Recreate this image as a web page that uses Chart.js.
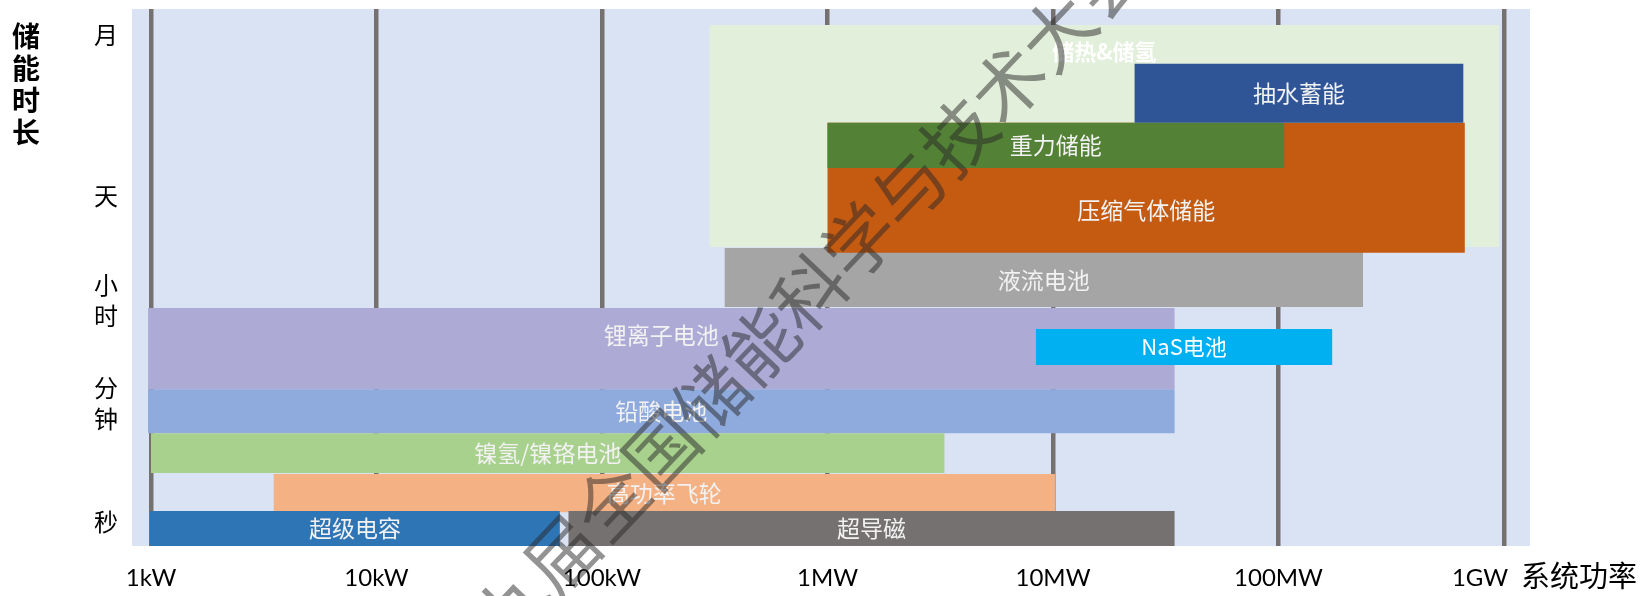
<!DOCTYPE html>
<html lang="zh">
<head>
<meta charset="UTF-8">
<title>储能技术功率与储能时长</title>
<script src="https://cdn.jsdelivr.net/npm/chart.js@4.4.1/dist/chart.umd.min.js"></script>
<style>
    body { margin: 0; background: #ffffff; }
    #wrap { width: 1647px; height: 596px; }
</style>
</head>
<body>
<div id="wrap"><canvas id="chart" width="1647" height="596"></canvas></div>
<script>
// 各储能技术的系统功率范围 (kW, 对数轴) 和储能时长范围 (时长指数: 0 秒级 … 100 月级)
const techNames = ['储热&储氢', '液流电池', '压缩气体储能', '重力储能', '抽水蓄能', '锂离子电池',
                   'NaS电池', '铅酸电池', '镍氢/镍铬电池', '高功率飞轮', '超级电容', '超导磁'];
const powerMin = [300, 350, 1000, 1000, 23000, 0.97, 8400, 0.97, 1.0, 3.5, 0.99, 71];
const powerMax = [950000, 237000, 670000, 106000, 660000, 34600, 173000, 34600, 3300, 10200, 65, 34600];
const durationMin = [55.7, 44.5, 54.6, 70.4, 78.8, 29.2, 33.7, 21.0, 13.6, 6.3, 0, 0];
const durationMax = [97.0, 55.5, 78.8, 78.8, 89.8, 44.3, 40.4, 29.2, 21.0, 13.4, 6.5, 6.5];

const powerTicks = [1, 10, 100, 1000, 10000, 100000, 1000000];
const powerTickLabels = ['1kW', '10kW', '100kW', '1MW', '10MW', '100MW', '1GW'];
const durationTicks = [4.5, 26.6, 45.8, 65.2, 95.2];
const durationTickLabels = [['秒'], ['分', '钟'], ['小', '时'], ['天'], ['月']];

const techColors = ['#E2EFDA', '#A5A5A5', '#C55A11', '#538135', '#2F5597', '#ADABD6',
                    '#00B0F0', '#8FAADC', '#A9D18E', '#F4B183', '#2E75B6', '#767171'];
const CJK = '"Noto Sans CJK SC", sans-serif';
const labelOnTop = ['储热&储氢', '锂离子电池'];

// 每个技术画成一个矩形 (闭合折线 + shape 填充)
function rectPoints(i) {
    const x0 = powerMin[i], x1 = powerMax[i];
    const y0 = durationMin[i], y1 = durationMax[i];
    return [{x: x0, y: y0}, {x: x1, y: y0}, {x: x1, y: y1}, {x: x0, y: y1}, {x: x0, y: y0}];
}

const datasets = techNames.map((name, i) => ({
    label: name,
    data: rectPoints(i),
    backgroundColor: techColors[i],
    borderColor: 'rgba(0,0,0,0)',
    borderWidth: 0,
    pointRadius: 0,
    tension: 0,
    fill: 'shape',
    order: techNames.length - i
}));

const plotBackground = {
    id: 'plotBackground',
    beforeDraw(chart) {
        const {ctx, chartArea: a} = chart;
        ctx.save();
        ctx.fillStyle = '#DAE3F3';
        ctx.fillRect(a.left, a.top, a.width, a.height);
        ctx.restore();
    }
};

// 矩形内的名称: 水平居中, 垂直方向放在未被上层矩形遮住的部分中间
const rectLabels = {
    id: 'rectLabels',
    afterDatasetsDraw(chart) {
        const {ctx, scales: {x, y}} = chart;
        const px = v => x.getPixelForValue(v);
        const py = v => y.getPixelForValue(v);
        ctx.save();
        ctx.textAlign = 'center';
        ctx.textBaseline = 'middle';
        techNames.forEach((name, i) => {
            const cx = (px(powerMin[i]) + px(powerMax[i])) / 2;
            const bottom = py(durationMin[i]);
            let top = py(durationMax[i]);
            for (let j = i + 1; j < techNames.length; j++) {
                const jTop = py(durationMax[j]), jBottom = py(durationMin[j]);
                if (px(powerMin[j]) <= cx && cx <= px(powerMax[j]) && jTop <= top + 1 && jBottom > top + 1) {
                    top = jBottom;
                }
            }
            const cy = labelOnTop.includes(name) ? top + 27 : (top + bottom) / 2;
            if (name === '储热&储氢') {
                ctx.font = `bold 22px ${CJK}`;
                ctx.fillStyle = '#ffffff';
            } else if (name === 'NaS电池') {
                ctx.font = `22px ${CJK}`;
                ctx.fillStyle = '#ffffff';
            } else {
                ctx.font = `23px ${CJK}`;
                ctx.fillStyle = '#F2F2F2';
            }
            ctx.fillText(name, cx, cy);
        });
        ctx.restore();
    }
};

const axisTitles = {
    id: 'axisTitles',
    afterDraw(chart) {
        const {ctx, chartArea: a} = chart;
        ctx.save();
        ctx.fillStyle = '#000000';
        ctx.textAlign = 'center';
        ctx.textBaseline = 'middle';
        ctx.font = `bold 28px ${CJK}`;
        [...'储能时长'].forEach((ch, k) => ctx.fillText(ch, 26, 36 + k * 32));
        ctx.textAlign = 'left';
        ctx.font = `29px ${CJK}`;
        ctx.fillText('系统功率', a.right - 9, 576);
        ctx.restore();
    }
};

const watermark = {
    id: 'watermark',
    afterDraw(chart) {
        const {ctx} = chart;
        ctx.save();
        ctx.translate(785, 319);
        ctx.rotate(-46.5 * Math.PI / 180);
        ctx.font = `72px ${CJK}`;
        ctx.fillStyle = 'rgba(40, 40, 40, 0.5)';
        ctx.textAlign = 'center';
        ctx.textBaseline = 'middle';
        ctx.fillText('第九届全国储能科学与技术大会', 0, 0);
        ctx.restore();
    }
};

new Chart(document.getElementById('chart'), {
    type: 'line',
    data: { datasets: datasets },
    plugins: [plotBackground, rectLabels, axisTitles, watermark],
    options: {
        responsive: false,
        animation: false,
        events: [],
        layout: { padding: { top: 9, right: 117, left: 0, bottom: 0 } },
        plugins: {
            legend: { display: false },
            tooltip: { enabled: false }
        },
        scales: {
            x: {
                type: 'logarithmic',
                min: 0.8235,
                max: 1304000,
                afterBuildTicks: s => { s.ticks = powerTicks.map(v => ({value: v})); },
                afterFit: s => {
                    s.height = 50;
                    s.paddingLeft = 0;
                    s.paddingRight = 0;
                },
                ticks: {
                    autoSkip: false,
                    maxRotation: 0,
                    padding: 18,
                    color: '#000000',
                    font: { family: 'Lato', size: 24 },
                    // 末尾的 1GW 往左让出位置给 "系统功率"
                    callback: (v, i) => i === powerTickLabels.length - 1
                        ? powerTickLabels[i] + '\u2003\u2003\u2002'
                        : powerTickLabels[i]
                },
                grid: { color: '#767171', lineWidth: 4.5, drawTicks: false },
                border: { display: false }
            },
            y: {
                type: 'linear',
                min: 0,
                max: 100,
                afterBuildTicks: s => { s.ticks = durationTicks.map(v => ({value: v})); },
                afterFit: s => {
                    s.width = 132;
                    s.paddingTop = 0;
                    s.paddingBottom = 0;
                },
                ticks: {
                    autoSkip: false,
                    padding: 14,
                    color: '#000000',
                    font: { family: CJK, size: 24, lineHeight: 1.3 },
                    callback: (v, i) => durationTickLabels[i]
                },
                grid: { display: false, drawTicks: false },
                border: { display: false }
            }
        }
    }
});
</script>
</body>
</html>
